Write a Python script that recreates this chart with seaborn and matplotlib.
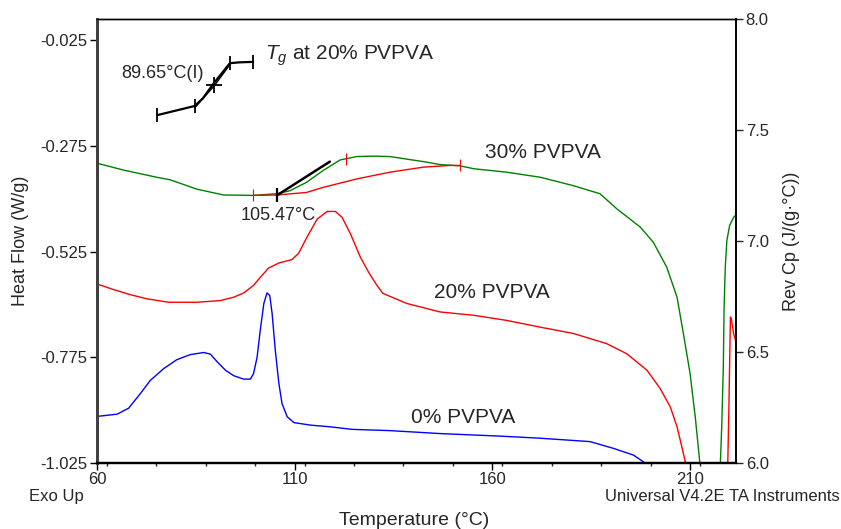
import matplotlib
matplotlib.use("Agg")
import matplotlib.pyplot as plt
import seaborn as sns
import pandas as pd
from matplotlib.ticker import FixedLocator, MultipleLocator

sns.set_style("ticks")
plt.rcParams['font.family'] = ['Liberation Sans', 'DejaVu Sans']
plt.rcParams['mathtext.fontset'] = 'custom'
plt.rcParams['mathtext.rm'] = 'Liberation Sans'
plt.rcParams['mathtext.it'] = 'Liberation Sans:italic'

# ---- data (Temperature in °C, Heat Flow in W/g, Rev Cp in J/(g·°C)) ----
blue0_T = [60.0, 60.4, 65.1, 68.0, 71.0, 73.5, 76.9, 80.2, 83.6, 87.0, 88.7, 90.4, 92.5,
           94.6, 97.1, 98.8, 99.6, 100.5, 101.3, 102.2, 103.0, 103.7, 104.3, 105.1,
           106.0, 106.8, 108.1, 109.8, 114.0, 119.0, 124.5, 134.1, 146.8, 161.9, 172.1,
           184.7, 190.6, 195.7, 198.2, 199.5]
blue0_HF = [-0.916, -0.915, -0.910, -0.896, -0.861, -0.830, -0.802, -0.781, -0.769, -0.764,
            -0.768, -0.786, -0.806, -0.819, -0.827, -0.827, -0.814, -0.775, -0.711, -0.648,
            -0.623, -0.629, -0.672, -0.759, -0.837, -0.885, -0.916, -0.930, -0.936, -0.940,
            -0.946, -0.949, -0.956, -0.962, -0.967, -0.975, -0.991, -1.007, -1.023, -1.040]

red20_T = [60.0, 60.4, 64.2, 68.4, 72.7, 78.1, 85.3, 91.2, 94.6, 97.1, 99.6, 101.3, 103.4,
           106.0, 109.3, 111.0, 113.1, 115.7, 118.2, 120.3, 122.0, 124.1, 126.6, 128.7,
           130.8, 132.3, 138.4, 146.8, 155.4, 163.6, 172.1, 180.5, 188.9, 194.0, 199.1,
           202.4, 205.0, 206.7, 207.9, 208.8, 209.1]
red20_HF = [-0.604, -0.603, -0.615, -0.627, -0.637, -0.645, -0.645, -0.641, -0.633, -0.623,
            -0.605, -0.586, -0.564, -0.552, -0.544, -0.529, -0.491, -0.448, -0.430, -0.430,
            -0.444, -0.483, -0.538, -0.574, -0.605, -0.624, -0.648, -0.668, -0.676, -0.688,
            -0.704, -0.719, -0.743, -0.767, -0.806, -0.849, -0.893, -0.940, -0.987, -1.023,
            -1.040]
red20_tail_T = [219.5, 219.8, 220.2, 220.4, 221.0, 221.6]
red20_tail_HF = [-1.040, -0.900, -0.680, -0.683, -0.719, -0.739]

green30_T = [60.1, 66.7, 75.1, 78.5, 85.2, 92.0, 99.5, 105.5, 108.8, 113.0, 117.2, 121.5,
             125.7, 129.9, 134.1, 138.3, 142.6, 146.8, 151.8, 155.4, 163.6, 172.1, 180.5,
             187.2, 191.5, 197.4, 200.7, 204.1, 206.7, 208.3, 210.0, 211.3, 212.4, 212.6]
green30_HF = [-0.316, -0.332, -0.349, -0.355, -0.377, -0.391, -0.392, -0.388, -0.381, -0.361,
              -0.333, -0.308, -0.300, -0.299, -0.300, -0.306, -0.312, -0.319, -0.322, -0.329,
              -0.337, -0.349, -0.369, -0.388, -0.424, -0.467, -0.503, -0.562, -0.633, -0.719,
              -0.814, -0.916, -1.019, -1.040]
green30_tail_T = [217.6, 218.0, 218.4, 218.6, 218.9, 219.3, 220.0, 221.0, 221.6]
green30_tail_HF = [-1.040, -0.940, -0.798, -0.656, -0.562, -0.499, -0.463, -0.444, -0.438]

redseg_T = [99.5, 105.5, 113.0, 117.2, 125.7, 134.1, 142.6, 149.3, 151.8]
redseg_HF = [-0.392, -0.391, -0.385, -0.373, -0.353, -0.337, -0.325, -0.321, -0.321]
redtick_T = [99.5, 123.0, 151.8]
redtick_HF = [-0.392, -0.305, -0.321]

tangent_T = [105.5, 118.9]
tangent_HF = [-0.392, -0.312]

tg_T = [75.3, 84.7, 86.8, 89.5, 91.9, 93.6, 96.1, 99.5]
tg_Cp = [7.568, 7.609, 7.644, 7.711, 7.764, 7.802, 7.806, 7.808]
tg_chord_T = [84.7, 89.65, 93.6]
tg_chord_Cp = [7.600, 7.700, 7.795]
tgtick_T = [75.3, 84.7, 93.6, 99.5]
tgtick_Cp = [7.568, 7.609, 7.802, 7.808]
tg_mid_T = [89.65]
tg_mid_Cp = [7.705]

hf_ticks = [-1.025, -0.775, -0.525, -0.275, -0.025]
hf_labels = ["-1.025", "-0.775", "-0.525", "-0.275", "-0.025"]
cp_ticks = [6.0, 6.5, 7.0, 7.5, 8.0]
t_ticks = [60, 110, 160, 210]

# ---- figure ----
fig = plt.figure(figsize=(8.41, 5.29), dpi=100)
ax = fig.add_axes([0.1153, 0.1253, 0.7598, 0.8382])
ax2 = ax.twinx()

def line(a, x, y, color, lw=1.0, **kw):
    df = pd.DataFrame({"T": x, "v": y})
    sns.lineplot(data=df, x="T", y="v", ax=a, color=color, lw=lw, sort=False,
                 estimator=None, legend=False, **kw)

line(ax, blue0_T, blue0_HF, "#0000ff")
line(ax, red20_T, red20_HF, "#ff0000")
line(ax, red20_tail_T, red20_tail_HF, "#ff0000")
line(ax, green30_T, green30_HF, "#008000")
line(ax, green30_tail_T, green30_tail_HF, "#008000")
line(ax, redseg_T, redseg_HF, "#ff0000")
line(ax, tangent_T, tangent_HF, "black", lw=1.8)
ax.plot(redtick_T, redtick_HF, ls="none", marker="|", ms=8, mew=0.8, color="#ff0000")
ax.plot([105.5], [-0.392], ls="none", marker="|", ms=10, mew=1.6, color="black")

line(ax2, tg_T, tg_Cp, "black", lw=1.6)
line(ax2, tg_chord_T, tg_chord_Cp, "black", lw=1.0)
ax2.plot(tgtick_T, tgtick_Cp, ls="none", marker="|", ms=10, mew=1.3, color="black")
ax2.plot(tg_mid_T, tg_mid_Cp, ls="none", marker="+", ms=11, mew=1.3, color="black")

ax.set_xlim(60, 221.6)
ax.set_ylim(-1.025, 0.025)
ax2.set_ylim(6.0, 8.0)

ax.xaxis.set_major_locator(FixedLocator(t_ticks))
ax.xaxis.set_minor_locator(MultipleLocator(12.5))
ax.set_xticklabels([str(t) for t in t_ticks])
ax.yaxis.set_major_locator(FixedLocator(hf_ticks))
ax.set_yticklabels(hf_labels)
ax2.yaxis.set_major_locator(FixedLocator(cp_ticks))
ax2.set_yticklabels([f"{c:.1f}" for c in cp_ticks])

ax.tick_params(axis="both", which="major", labelsize=12, length=5, width=1.0,
               direction="out", pad=2, color="black")
ax.tick_params(axis="x", which="minor", length=2.5, width=1.0, direction="out")
ax2.tick_params(axis="y", which="major", labelsize=12, length=5, width=1.0,
                direction="out", pad=2)
ax.set_xlabel("")
ax.set_ylabel("Heat Flow (W/g)", fontsize=13, labelpad=8)
ax2.set_ylabel("Rev Cp (J/(g·°C))", fontsize=13, labelpad=10)

for a in (ax, ax2):
    a.spines["left"].set_linewidth(2.0)
    a.spines["left"].set_color("#404040")
    a.spines["bottom"].set_linewidth(1.6)
    a.spines["bottom"].set_color("black")
    a.spines["top"].set_linewidth(1.0)
    a.spines["top"].set_color("black")
    a.spines["right"].set_linewidth(1.2)
    a.spines["right"].set_color("black")
    a.spines["top"].set_visible(True)
    a.spines["right"].set_visible(True)

ax.text(158.2, -0.291, "30% PVPVA", fontsize=15, ha="left", va="center")
ax.text(145.3, -0.623, "20% PVPVA", fontsize=15, ha="left", va="center")
ax.text(139.4, -0.918, "0% PVPVA", fontsize=15, ha="left", va="center")
ax.text(102.5, -0.062, r"$T_g$ at 20% PVPVA", fontsize=15, ha="left", va="center")
ax.text(66.2, -0.103, "89.65°C(I)", fontsize=13, ha="left", va="center")
ax.text(96.35, -0.440, "105.47°C", fontsize=13, ha="left", va="center")

fig.text(0.035, 0.062, "Exo Up", fontsize=12, ha="left", va="center")
fig.text(0.998, 0.062, "Universal V4.2E TA Instruments", fontsize=12, ha="right", va="center")
fig.text(0.493, 0.017, "Temperature (°C)", fontsize=14, ha="center", va="center")

fig.savefig("out.png", dpi=100)
